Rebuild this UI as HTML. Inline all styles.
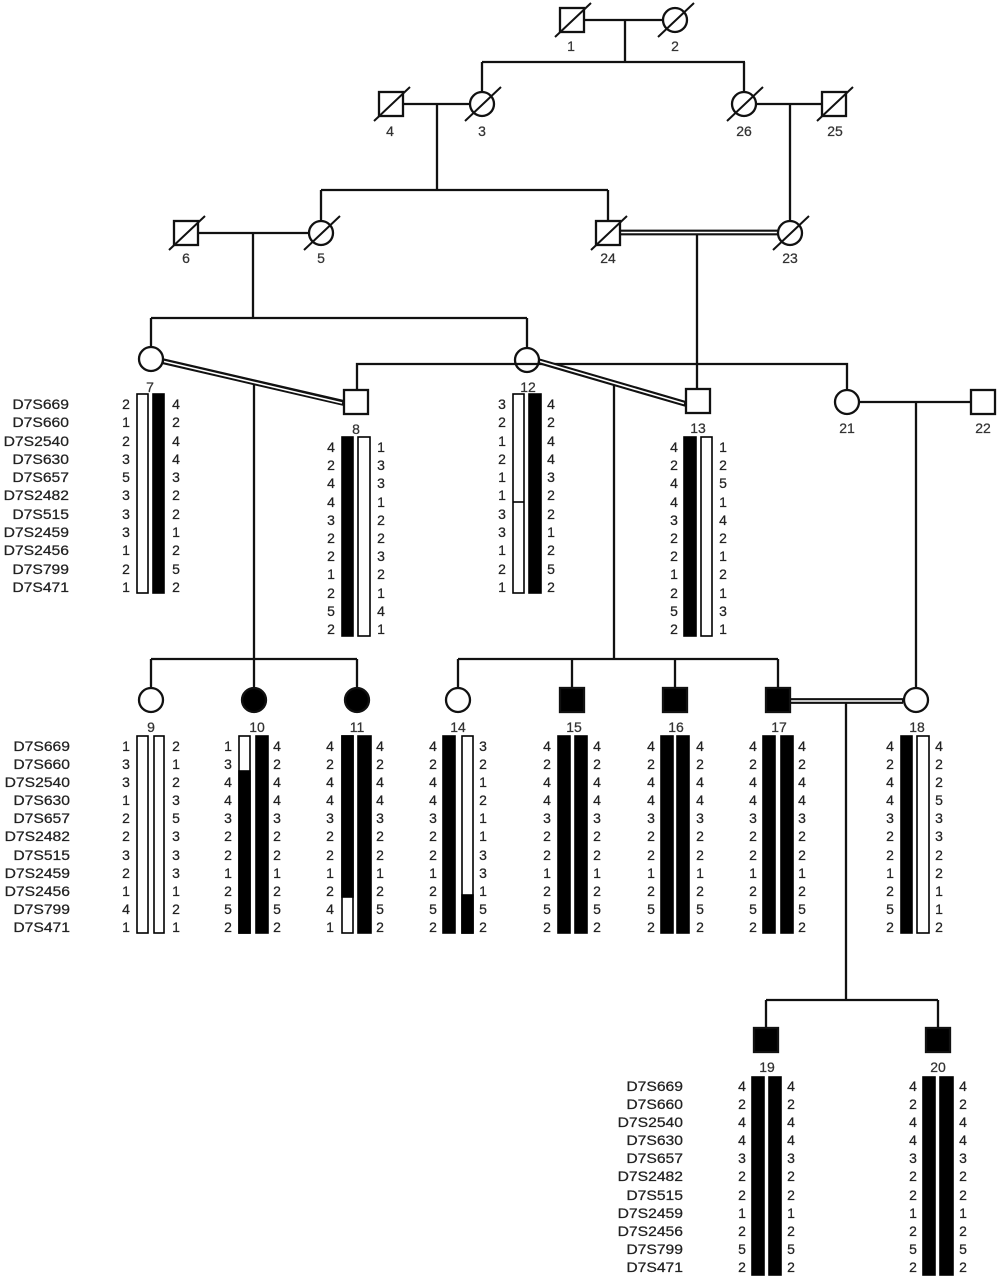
<!DOCTYPE html>
<html><head><meta charset="utf-8">
<style>
html,body{margin:0;padding:0;background:#fff;}
#w{position:relative;width:1000px;height:1279px;overflow:hidden;background:#fff;}
svg{position:absolute;left:0;top:0;}
.c{position:absolute;width:16px;text-align:center;font-family:"Liberation Sans",Arial,sans-serif;font-size:14px;color:#222;-webkit-text-stroke:0.25px #222;}
.m{position:absolute;text-align:right;font-family:"Liberation Sans",Arial,sans-serif;font-size:14px;color:#222;-webkit-text-stroke:0.25px #222;transform:scaleX(1.12);transform-origin:right top;}
.a{top:395px;line-height:18.3px}
.b{top:438px;line-height:18.2px}
.v{top:737px;line-height:18.1px}
.s{top:1077px;line-height:18.1px}
</style></head><body><div id="w">
<svg width="1000" height="1279" viewBox="0 0 1000 1279" xmlns="http://www.w3.org/2000/svg">
<g fill="none" stroke="#111" stroke-width="2.3">
<path d="M584 20H663M625 20V62M482 62H745M482 62V92M744 62V92"/>
<path d="M402 104H470M437 104V190M756 104H823M790 104V221M321 190H608M321 190V221M608 190V221"/>
<path d="M197 233H309M253 233V318M151 318H527M151 318V347M527 318V348M697 235V389"/>
<path d="M357 390V364H847V390M254 382V688M614 383V659M859 402H972M916 402V688"/>
<path d="M151 659H357M151 659V688M357 659V688M458 659H778M458 659V688M572 659V688M675 659V688M778 659V688"/>
<path d="M846 703V1000M766 1000H938M766 1000V1028M938 1000V1028"/>
</g>
<g fill="none" stroke="#111" stroke-width="5.8">
<path d="M620 232.5H778M162 361L344 403M538 361L686 404M790 701H903"/>
</g>
<g fill="none" stroke="#fff" stroke-width="1.6">
<path d="M621 232.5H777M164 361.5L342 403M540 361.5L684 403.5M791 701H902"/>
</g>
<!-- symbols -->
<g stroke="#111" stroke-width="2.3" fill="#fff">
<rect x="560" y="8" width="24" height="24"/>
<circle cx="675" cy="20" r="12"/>
<rect x="379" y="92" width="24" height="24"/>
<circle cx="482" cy="104" r="12"/>
<circle cx="744" cy="104" r="12"/>
<rect x="822" y="92" width="24" height="24"/>
<rect x="174" y="221" width="24" height="24"/>
<circle cx="321" cy="233" r="12"/>
<rect x="596" y="221" width="24" height="24"/>
<circle cx="790" cy="233" r="12"/>
<circle cx="151" cy="359" r="12"/>
<rect x="344" y="390" width="24" height="24"/>
<circle cx="527" cy="360" r="12" fill="none"/>
<rect x="686" y="389" width="24" height="24"/>
<circle cx="847" cy="402" r="12"/>
<rect x="971" y="390" width="24" height="24"/>
<circle cx="151" cy="700" r="12"/>
<circle cx="254" cy="700" r="12" fill="#000"/>
<circle cx="357" cy="700" r="12" fill="#000"/>
<circle cx="458" cy="700" r="12"/>
<rect x="560" y="688" width="24" height="24" fill="#000"/>
<rect x="663" y="688" width="24" height="24" fill="#000"/>
<rect x="766" y="688" width="24" height="24" fill="#000"/>
<circle cx="916" cy="700" r="12"/>
<rect x="754" y="1028" width="24" height="24" fill="#000"/>
<rect x="926" y="1028" width="24" height="24" fill="#000"/>
</g>
<g stroke="#111" stroke-width="2">
<path d="M555 37L591 3M658 37L694 3M374 121L410 87M465 121L501 87M727 121L763 87M817 121L853 87"/>
<path d="M169 250L205 216M304 250L340 216M591 250L627 216M773 250L809 216"/>
</g>
<!-- labels -->
<g font-family="Liberation Sans, Arial, sans-serif" font-size="14" fill="#333" stroke="#333" stroke-width="0.25" text-anchor="middle">
<text x="571" y="51">1</text><text x="675" y="51">2</text>
<text x="390" y="136">4</text><text x="482" y="136">3</text><text x="744" y="136">26</text><text x="835" y="136">25</text>
<text x="186" y="263">6</text><text x="321" y="263">5</text><text x="608" y="263">24</text><text x="790" y="263">23</text>
<text x="150" y="392">7</text><text x="356" y="434">8</text><text x="528" y="392">12</text><text x="698" y="433">13</text><text x="847" y="433">21</text><text x="983" y="433">22</text>
<text x="151" y="732">9</text><text x="257" y="732">10</text><text x="357" y="732">11</text><text x="458" y="732">14</text><text x="574" y="732">15</text><text x="676" y="732">16</text><text x="779" y="732">17</text><text x="917" y="732">18</text>
<text x="767" y="1072">19</text><text x="938" y="1072">20</text>
</g>
<!-- haplotype bars -->
<g stroke="#000" stroke-width="1.6">
<rect x="137" y="394" width="11" height="199" fill="#fff"/>
<rect x="153" y="394" width="11" height="199" fill="#000"/>
<rect x="513" y="394" width="11" height="199" fill="#fff"/>
<path d="M513 502H524" fill="none"/>
<rect x="529" y="394" width="12" height="199" fill="#000"/>
<rect x="342" y="437" width="11" height="199" fill="#000"/>
<rect x="358" y="437" width="12" height="199" fill="#fff"/>
<rect x="684" y="437" width="12" height="199" fill="#000"/>
<rect x="701" y="437" width="11" height="199" fill="#fff"/>

<rect x="137" y="736" width="11" height="197" fill="#fff"/>
<rect x="154" y="736" width="10" height="197" fill="#fff"/>
<rect x="239" y="736" width="11" height="197" fill="#fff"/>
<rect x="239" y="771" width="11" height="162" fill="#000"/>
<rect x="256" y="736" width="12" height="197" fill="#000"/>
<rect x="342" y="736" width="11" height="197" fill="#fff"/>
<rect x="342" y="736" width="11" height="161" fill="#000"/>
<rect x="358" y="736" width="13" height="197" fill="#000"/>
<rect x="443" y="736" width="12" height="197" fill="#000"/>
<rect x="462" y="736" width="11" height="197" fill="#fff"/>
<rect x="462" y="895" width="11" height="38" fill="#000"/>
<rect x="558" y="736" width="12" height="197" fill="#000"/>
<rect x="575" y="736" width="12" height="197" fill="#000"/>
<rect x="661" y="736" width="12" height="197" fill="#000"/>
<rect x="677" y="736" width="12" height="197" fill="#000"/>
<rect x="763" y="736" width="12" height="197" fill="#000"/>
<rect x="781" y="736" width="12" height="197" fill="#000"/>
<rect x="901" y="736" width="11" height="197" fill="#000"/>
<rect x="917" y="736" width="12" height="197" fill="#fff"/>

<rect x="752" y="1077" width="12" height="198" fill="#000"/>
<rect x="769" y="1077" width="12" height="198" fill="#000"/>
<rect x="923" y="1077" width="12" height="198" fill="#000"/>
<rect x="940" y="1077" width="13" height="198" fill="#000"/>
</g>
</svg>

<!-- marker labels -->
<div class="m a" style="left:0;width:69px">D7S669<br>D7S660<br>D7S2540<br>D7S630<br>D7S657<br>D7S2482<br>D7S515<br>D7S2459<br>D7S2456<br>D7S799<br>D7S471</div>
<div class="m v" style="left:0;width:70px">D7S669<br>D7S660<br>D7S2540<br>D7S630<br>D7S657<br>D7S2482<br>D7S515<br>D7S2459<br>D7S2456<br>D7S799<br>D7S471</div>
<div class="m s" style="left:600px;width:83px">D7S669<br>D7S660<br>D7S2540<br>D7S630<br>D7S657<br>D7S2482<br>D7S515<br>D7S2459<br>D7S2456<br>D7S799<br>D7S471</div>

<!-- gen IV -->
<div class="c a" style="left:118px">2<br>1<br>2<br>3<br>5<br>3<br>3<br>3<br>1<br>2<br>1</div>
<div class="c a" style="left:168px">4<br>2<br>4<br>4<br>3<br>2<br>2<br>1<br>2<br>5<br>2</div>
<div class="c b" style="left:323px">4<br>2<br>4<br>4<br>3<br>2<br>2<br>1<br>2<br>5<br>2</div>
<div class="c b" style="left:373px">1<br>3<br>3<br>1<br>2<br>2<br>3<br>2<br>1<br>4<br>1</div>
<div class="c a" style="left:494px">3<br>2<br>1<br>2<br>1<br>1<br>3<br>3<br>1<br>2<br>1</div>
<div class="c a" style="left:543px">4<br>2<br>4<br>4<br>3<br>2<br>2<br>1<br>2<br>5<br>2</div>
<div class="c b" style="left:666px">4<br>2<br>4<br>4<br>3<br>2<br>2<br>1<br>2<br>5<br>2</div>
<div class="c b" style="left:715px">1<br>2<br>5<br>1<br>4<br>2<br>1<br>2<br>1<br>3<br>1</div>

<!-- gen V -->
<div class="c v" style="left:118px">1<br>3<br>3<br>1<br>2<br>2<br>3<br>2<br>1<br>4<br>1</div>
<div class="c v" style="left:168px">2<br>1<br>2<br>3<br>5<br>3<br>3<br>3<br>1<br>2<br>1</div>
<div class="c v" style="left:220px">1<br>3<br>4<br>4<br>3<br>2<br>2<br>1<br>2<br>5<br>2</div>
<div class="c v" style="left:269px">4<br>2<br>4<br>4<br>3<br>2<br>2<br>1<br>2<br>5<br>2</div>
<div class="c v" style="left:322px">4<br>2<br>4<br>4<br>3<br>2<br>2<br>1<br>2<br>4<br>1</div>
<div class="c v" style="left:372px">4<br>2<br>4<br>4<br>3<br>2<br>2<br>1<br>2<br>5<br>2</div>
<div class="c v" style="left:425px">4<br>2<br>4<br>4<br>3<br>2<br>2<br>1<br>2<br>5<br>2</div>
<div class="c v" style="left:475px">3<br>2<br>1<br>2<br>1<br>1<br>3<br>3<br>1<br>5<br>2</div>
<div class="c v" style="left:539px">4<br>2<br>4<br>4<br>3<br>2<br>2<br>1<br>2<br>5<br>2</div>
<div class="c v" style="left:589px">4<br>2<br>4<br>4<br>3<br>2<br>2<br>1<br>2<br>5<br>2</div>
<div class="c v" style="left:643px">4<br>2<br>4<br>4<br>3<br>2<br>2<br>1<br>2<br>5<br>2</div>
<div class="c v" style="left:692px">4<br>2<br>4<br>4<br>3<br>2<br>2<br>1<br>2<br>5<br>2</div>
<div class="c v" style="left:745px">4<br>2<br>4<br>4<br>3<br>2<br>2<br>1<br>2<br>5<br>2</div>
<div class="c v" style="left:794px">4<br>2<br>4<br>4<br>3<br>2<br>2<br>1<br>2<br>5<br>2</div>
<div class="c v" style="left:882px">4<br>2<br>4<br>4<br>3<br>2<br>2<br>1<br>2<br>5<br>2</div>
<div class="c v" style="left:931px">4<br>2<br>2<br>5<br>3<br>3<br>2<br>2<br>1<br>1<br>2</div>

<!-- gen VI -->
<div class="c s" style="left:734px">4<br>2<br>4<br>4<br>3<br>2<br>2<br>1<br>2<br>5<br>2</div>
<div class="c s" style="left:783px">4<br>2<br>4<br>4<br>3<br>2<br>2<br>1<br>2<br>5<br>2</div>
<div class="c s" style="left:905px">4<br>2<br>4<br>4<br>3<br>2<br>2<br>1<br>2<br>5<br>2</div>
<div class="c s" style="left:955px">4<br>2<br>4<br>4<br>3<br>2<br>2<br>1<br>2<br>5<br>2</div>
</div></body></html>
